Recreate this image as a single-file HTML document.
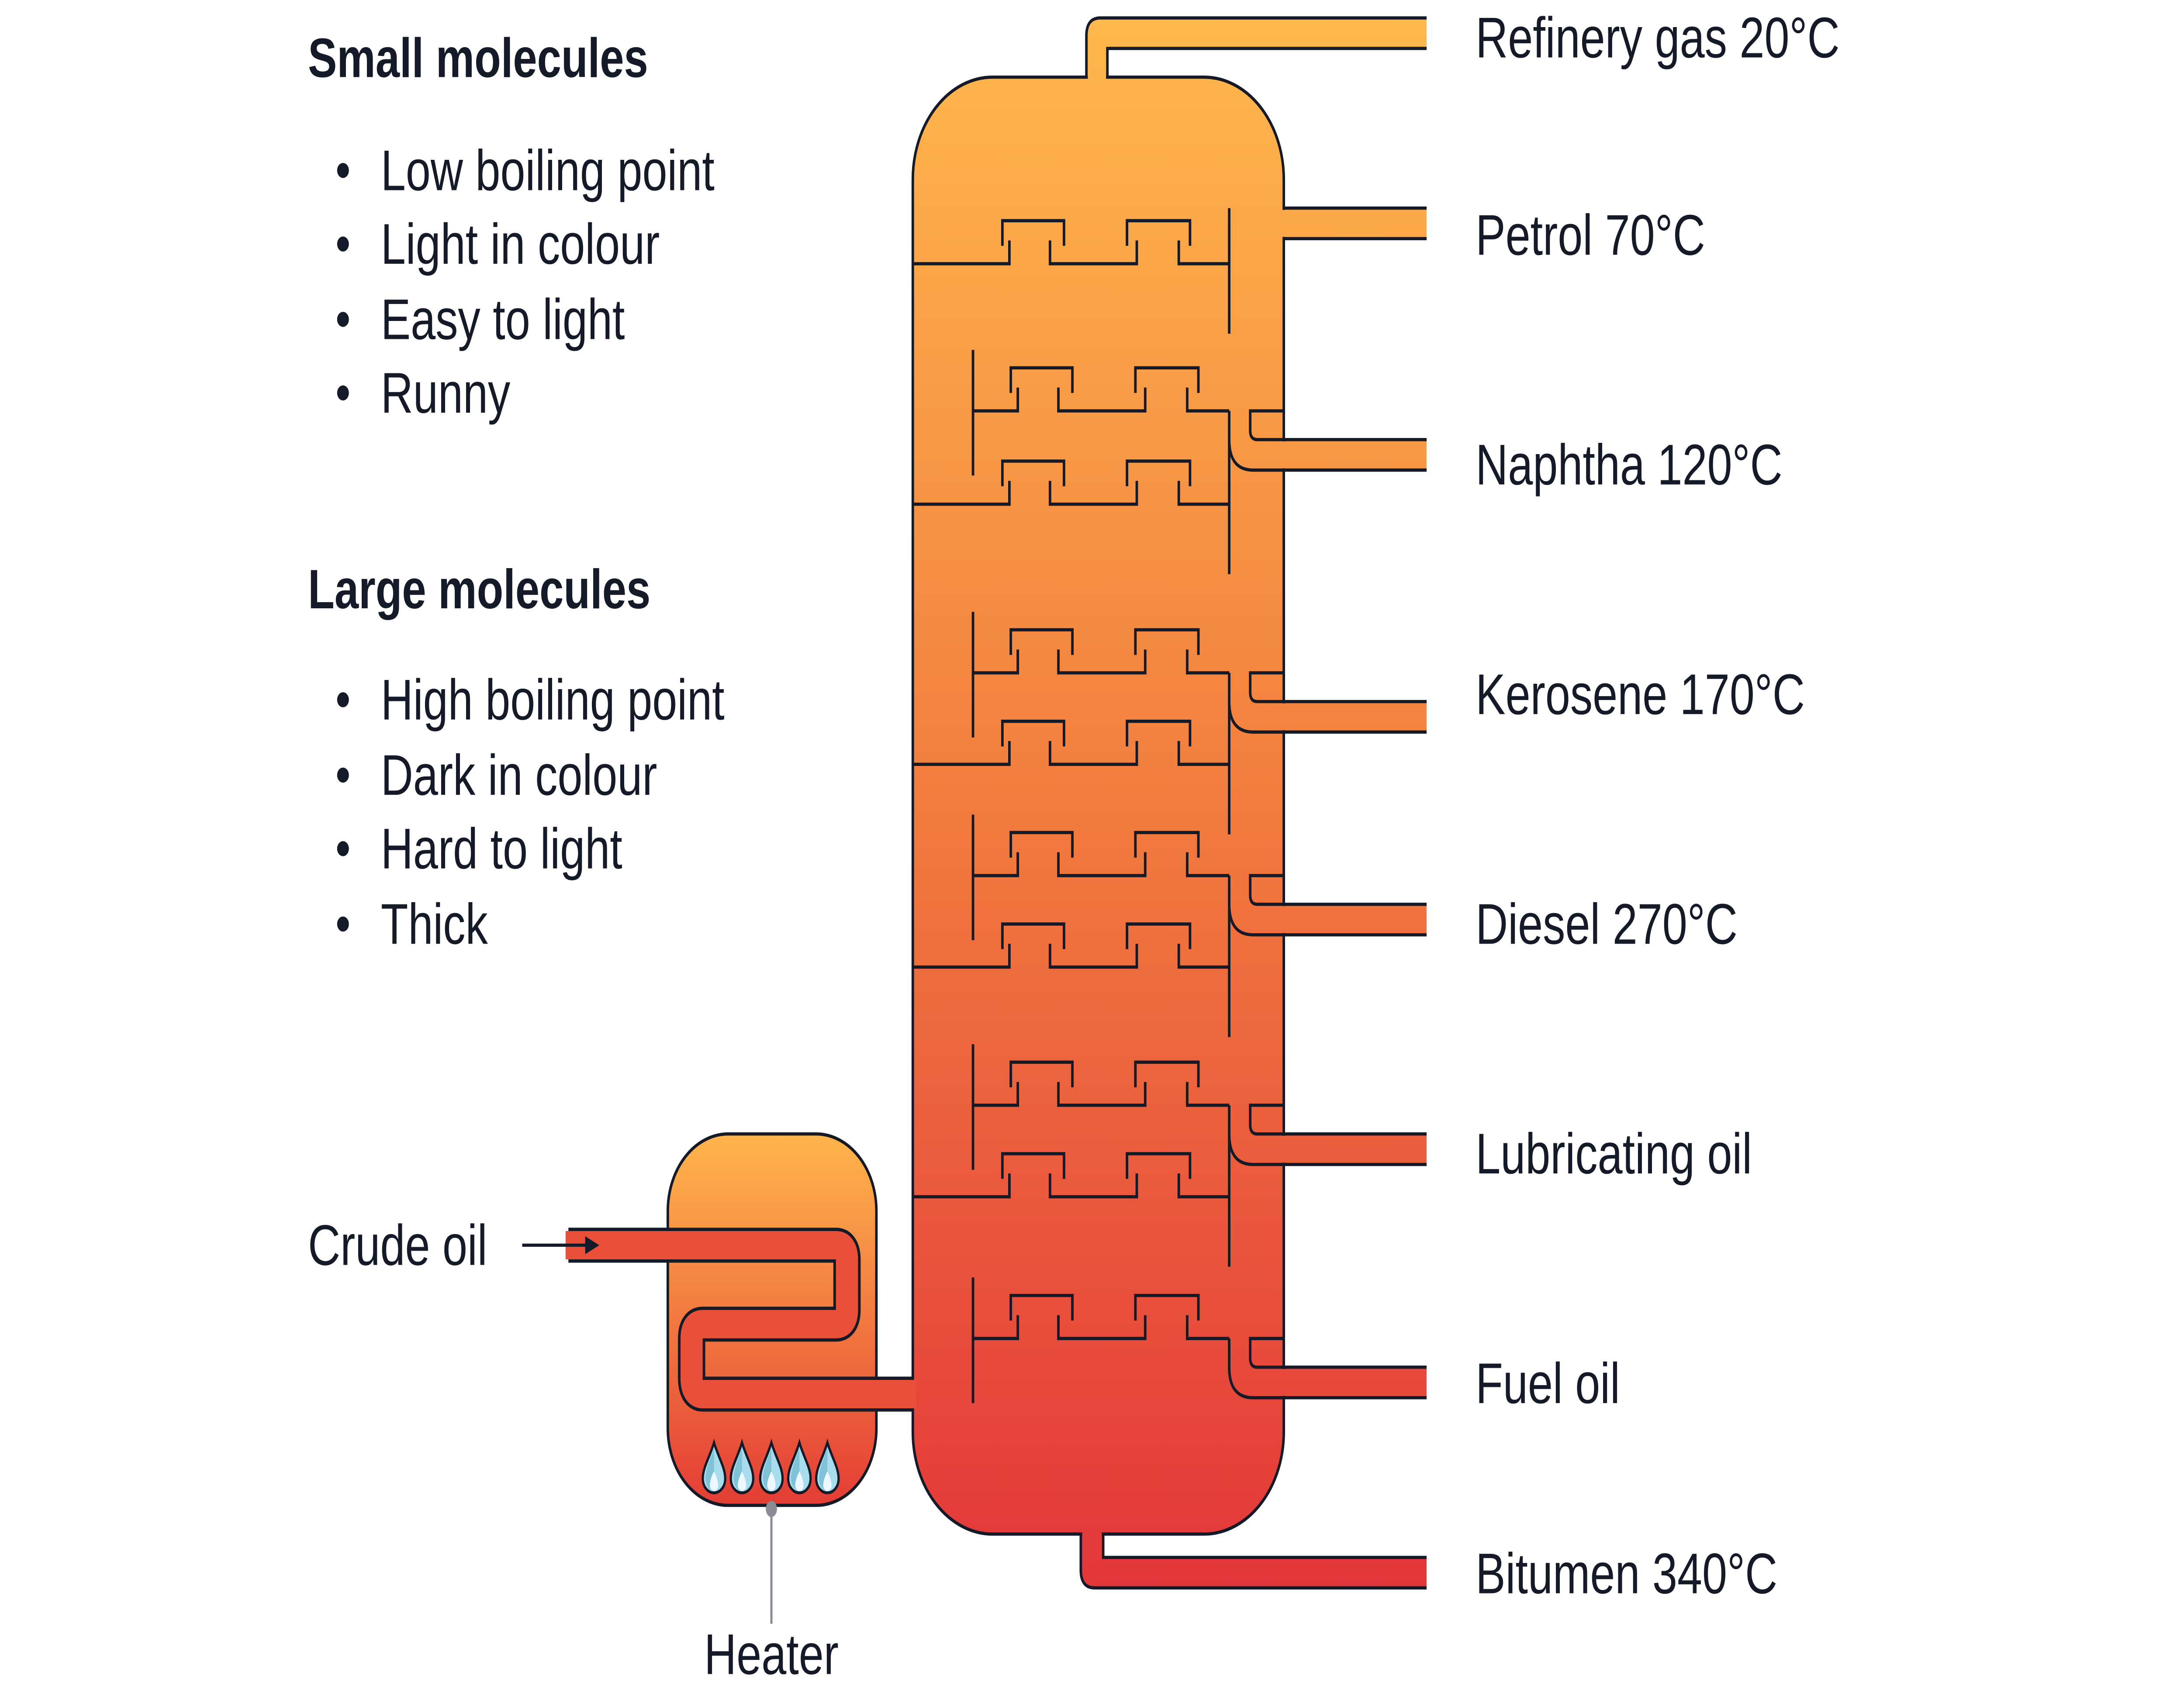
<!DOCTYPE html>
<html><head><meta charset="utf-8"><style>
html,body{margin:0;padding:0;background:#fff;overflow:hidden;width:100%;height:100%;}
svg{display:block;width:100vw;height:100vh;}
text{font-family:"Liberation Sans",sans-serif;fill:#141a28;}
</style></head><body>
<svg viewBox="0 0 1560 938" preserveAspectRatio="none" xmlns="http://www.w3.org/2000/svg">
<defs>
<linearGradient id="g" gradientUnits="userSpaceOnUse" x1="0" y1="10" x2="0" y2="885">
<stop offset="0" stop-color="#ffb84d"/><stop offset="0.45" stop-color="#f3833f"/><stop offset="1" stop-color="#e3363a"/>
</linearGradient>
<linearGradient id="h" gradientUnits="userSpaceOnUse" x1="0" y1="632" x2="0" y2="839">
<stop offset="0" stop-color="#ffb54c"/><stop offset="1" stop-color="#e43d35"/>
</linearGradient>
<g id="fl">
<path d="M0,0 C-3,8 -8,14 -8,20 C-8,25 -4,28 0,28 C4,28 8,25 8,20 C8,14 3,8 0,0Z" fill="#a6dcec" stroke="#141a28" stroke-width="1.6"/>
<path d="M0,3 C-3,10 -6,15 -6,20 C-6,24 -3,27 0,27 L0,3Z" fill="#80c2d6"/>
<path d="M0,16 C-2,19 -3,22 -3,24 C-3,26 -1,27 0,27 C1,27 3,26 3,24 C3,22 2,19 0,16Z" fill="#eef6ff"/>
</g>
</defs>

<text x="220" y="43" font-size="31" font-weight="bold">Small molecules</text>
<g font-size="32">
<text x="272" y="106">Low boiling point</text>
<text x="272" y="147">Light in colour</text>
<text x="272" y="189">Easy to light</text>
<text x="272" y="230">Runny</text>
<text x="272" y="401">High boiling point</text>
<text x="272" y="443">Dark in colour</text>
<text x="272" y="484">Hard to light</text>
<text x="272" y="526">Thick</text>
</g>
<g fill="#141a28">
<circle cx="245" cy="95" r="4.2"/><circle cx="245" cy="136" r="4.2"/><circle cx="245" cy="178" r="4.2"/><circle cx="245" cy="219" r="4.2"/>
<circle cx="245" cy="390" r="4.2"/><circle cx="245" cy="432" r="4.2"/><circle cx="245" cy="473" r="4.2"/><circle cx="245" cy="515" r="4.2"/>
</g>
<text x="220" y="339" font-size="31" font-weight="bold">Large molecules</text>

<g font-size="32">
<text x="1054" y="32">Refinery gas 20°C</text>
<text x="1054" y="142">Petrol 70°C</text>
<text x="1054" y="270">Naphtha 120°C</text>
<text x="1054" y="398">Kerosene 170°C</text>
<text x="1054" y="526">Diesel 270°C</text>
<text x="1054" y="654">Lubricating oil</text>
<text x="1054" y="782">Fuel oil</text>
<text x="1054" y="888">Bitumen 340°C</text>
<text x="220" y="705">Crude oil</text>
<text x="551" y="933" text-anchor="middle">Heater</text>
</g>

<g fill="url(#g)">
<path d="M776,45 V20 Q776,10 786,10 H1019 V27 H791 V45Z"/>
<rect x="916" y="116" width="103" height="17"/>
<rect x="916" y="245" width="103" height="17"/>
<rect x="916" y="391" width="103" height="17"/>
<rect x="916" y="504" width="103" height="17"/>
<rect x="916" y="632" width="103" height="17"/>
<rect x="916" y="762" width="103" height="17"/>
<path d="M772,853 V875 Q772,885 782,885 H1019 V868 H788 V853Z"/>
</g>
<g fill="none" stroke="#141a28" stroke-width="1.8">
<path d="M776,43 V20 Q776,10 786,10 H1019"/>
<path d="M791,43 V27 H1019"/>
<path d="M917,116 H1019 M917,133 H1019"/>
<path d="M772,855 V875 Q772,885 782,885 H1019"/>
<path d="M788,855 V868 H1019"/>
</g>

<rect x="652" y="43" width="265" height="812" rx="57" ry="57" fill="url(#g)" stroke="#141a28" stroke-width="1.8"/>
<g fill="url(#g)">
<rect x="777" y="40" width="13" height="6"/>
<rect x="773" y="852" width="14" height="6"/>
<rect x="914" y="117" width="6" height="15"/>
<rect x="914" y="246" width="6" height="15"/>
<rect x="914" y="392" width="6" height="15"/>
<rect x="914" y="505" width="6" height="15"/>
<rect x="914" y="633" width="6" height="15"/>
<rect x="914" y="763" width="6" height="15"/>
</g>

<g fill="none" stroke="#141a28" stroke-width="1.8">
<path d="M652,147 H721 V134 M750,134 V147 H812 V134 M842,134 V147 H878 M716,137 V123 H760 V137 M805,137 V123 H850 V137 M878,116 V186"/>

<path d="M695,195 V265 M695,229 H727 V216 M756,216 V229 H818 V216 M848,216 V229 H878 M722,219 V205 H766 V219 M811,219 V205 H856 V219"/>
<path d="M878,229 V320 M878,245 Q878,262 895,262 H1019 M917,229 H893 V240 Q893,245 898,245 H1019"/>
<path d="M652,281 H721 V268 M750,268 V281 H812 V268 M842,268 V281 H878 M716,271 V257 H760 V271 M805,271 V257 H850 V271"/>

<path d="M695,341 V411 M695,375 H727 V362 M756,362 V375 H818 V362 M848,362 V375 H878 M722,365 V351 H766 V365 M811,365 V351 H856 V365"/>
<path d="M878,375 V465 M878,391 Q878,408 895,408 H1019 M917,375 H893 V386 Q893,391 898,391 H1019"/>
<path d="M652,426 H721 V413 M750,413 V426 H812 V413 M842,413 V426 H878 M716,416 V402 H760 V416 M805,416 V402 H850 V416"/>

<path d="M695,454 V524 M695,488 H727 V475 M756,475 V488 H818 V475 M848,475 V488 H878 M722,478 V464 H766 V478 M811,478 V464 H856 V478"/>
<path d="M878,488 V578 M878,504 Q878,521 895,521 H1019 M917,488 H893 V499 Q893,504 898,504 H1019"/>
<path d="M652,539 H721 V526 M750,526 V539 H812 V526 M842,526 V539 H878 M716,529 V515 H760 V529 M805,529 V515 H850 V529"/>

<path d="M695,582 V652 M695,616 H727 V603 M756,603 V616 H818 V603 M848,603 V616 H878 M722,606 V592 H766 V606 M811,606 V592 H856 V606"/>
<path d="M878,616 V706 M878,632 Q878,649 895,649 H1019 M917,616 H893 V627 Q893,632 898,632 H1019"/>
<path d="M652,667 H721 V654 M750,654 V667 H812 V654 M842,654 V667 H878 M716,657 V643 H760 V657 M805,657 V643 H850 V657"/>

<path d="M695,712 V782 M695,746 H727 V733 M756,733 V746 H818 V733 M848,733 V746 H878 M722,736 V722 H766 V736 M811,736 V722 H856 V736"/>
<path d="M878,746 V762 Q878,779 895,779 H1019 M917,746 H893 V757 Q893,762 898,762 H1019"/>
</g>

<rect x="477" y="632" width="149" height="207" rx="43" ry="43" fill="url(#h)" stroke="#141a28" stroke-width="1.8"/>
<path d="M406,694 H597 Q605,694 605,702 V730 Q605,738 597,738 H502 Q494,738 494,746 V768 Q494,777 502,777 H652" fill="none" stroke="#141a28" stroke-width="19.5"/>
<path d="M404,694 H597 Q605,694 605,702 V730 Q605,738 597,738 H502 Q494,738 494,746 V768 Q494,777 502,777 H654.5" fill="none" stroke="#e8503a" stroke-width="15.8"/>

<use href="#fl" x="510" y="804"/>
<use href="#fl" x="530" y="804"/>
<use href="#fl" x="551" y="804"/>
<use href="#fl" x="571" y="804"/>
<use href="#fl" x="591" y="804"/>

<line x1="551" y1="841" x2="551" y2="905" stroke="#8a8d96" stroke-width="1.6"/>
<ellipse cx="551" cy="841" rx="4" ry="4.5" fill="#8a8d96"/>

<line x1="373" y1="694" x2="420" y2="694" stroke="#141a28" stroke-width="1.8"/>
<path d="M428,694 L418,689 L418,699Z" fill="#141a28"/>
</svg>
</body></html>
